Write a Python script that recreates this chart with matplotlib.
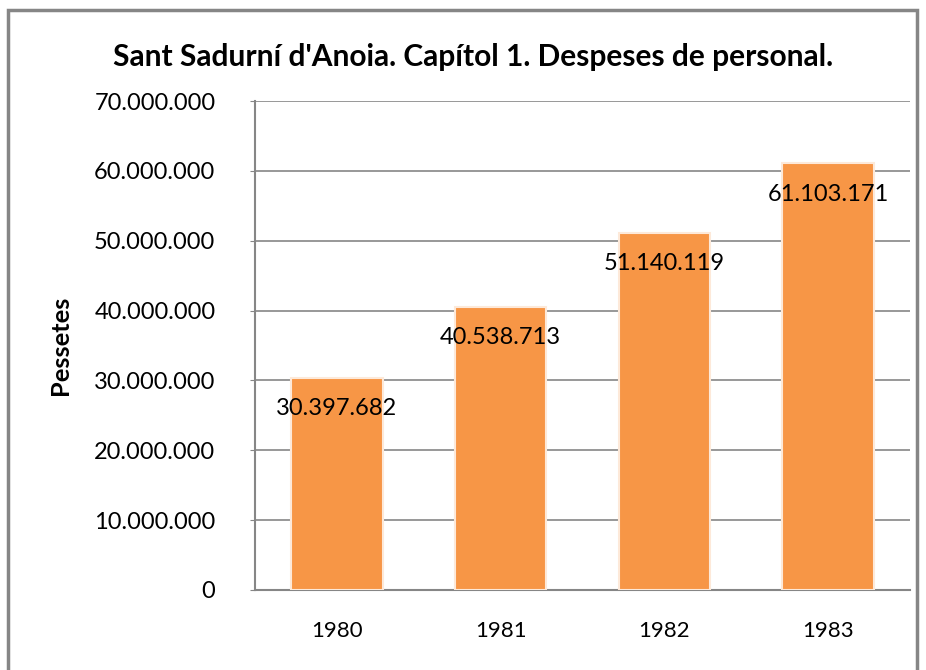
import matplotlib.pyplot as plt
from matplotlib.patches import Rectangle
from matplotlib.ticker import FuncFormatter, MultipleLocator

years = ['1980', '1981', '1982', '1983']
despeses = [30397682, 40538713, 51140119, 61103171]


def dotted(v, pos=None):
    return '{:,.0f}'.format(v).replace(',', '.')


plt.rcParams['font.family'] = ['Lato', 'DejaVu Sans']

fig = plt.figure(figsize=(9.26, 6.70), dpi=100)
ax = fig.add_axes([255 / 926, 80 / 670, 655 / 926, 489 / 670])

# outer chart border
fig.patches.append(Rectangle((8 / 926, -0.05), 909 / 926, 1.0 - 10 / 670 + 0.05,
                             transform=fig.transFigure, fill=False,
                             edgecolor='#868686', linewidth=2.5))

x = range(len(years))
bars = ax.bar(x, despeses, width=0.56, color='#F79646', edgecolor='#fde9d9',
              linewidth=1.5, zorder=3)

for i, v in enumerate(despeses):
    ax.annotate(dotted(v), (i, v), xytext=(0, -31), textcoords='offset pixels',
                ha='center', va='center', fontsize=17, zorder=4)

ax.set_xlim(-0.5, 3.5)
ax.set_ylim(0, 70000000)
ax.yaxis.set_major_locator(MultipleLocator(10000000))
ax.yaxis.set_major_formatter(FuncFormatter(dotted))
ax.set_xticks(list(x))
ax.set_xticklabels(years)
ax.grid(axis='y', color='#868686', linewidth=1.2, zorder=0)

for s in ['top', 'right']:
    ax.spines[s].set_visible(False)
for s in ['left', 'bottom']:
    ax.spines[s].set_color('#868686')
    ax.spines[s].set_linewidth(1.5)

ax.tick_params(axis='y', length=3.5, color='#868686', pad=25, labelsize=17)
ax.tick_params(axis='x', length=0, pad=22, labelsize=16)

ax.set_ylabel('Pessetes', fontsize=18.3, fontweight='bold')
ax.yaxis.set_label_coords(-183 / 655, 0.5)
fig.text(473 / 926, 1 - 57 / 670, "Sant Sadurní d'Anoia. Capítol 1. Despeses de personal.",
         ha='center', va='center', fontsize=21.5, fontweight='bold')

fig.savefig('out.png', dpi=100)
